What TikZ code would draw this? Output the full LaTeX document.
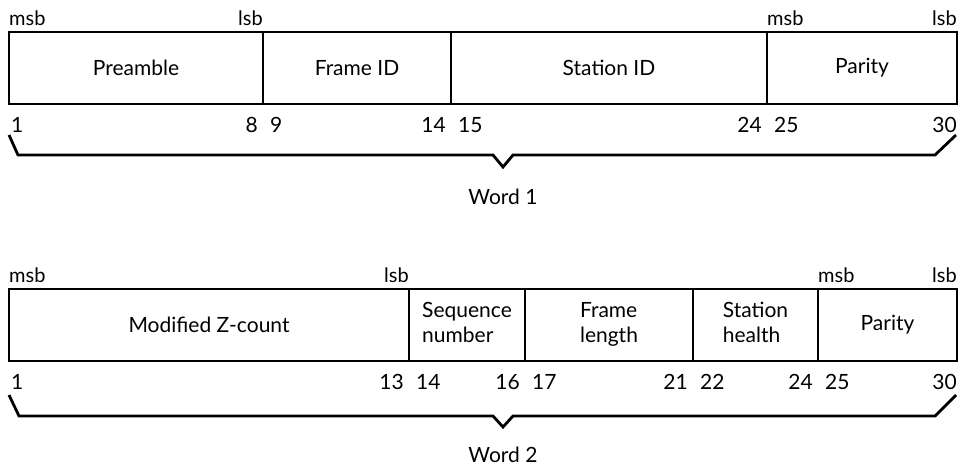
\documentclass[tikz,border=0pt]{standalone}
\usepackage{fontspec}
\setmainfont{Lato}
\usetikzlibrary{positioning}

\begin{document}
\begin{tikzpicture}[
        x=1pt, y=1pt,
        font=\fontsize{21}{25}\selectfont,
        field/.style={draw, line width=2.8pt, minimum height=72pt, inner sep=0pt, outer sep=0pt, align=left},
        twoline/.style={field, execute at begin node=\rule{0pt}{20pt}, execute at end node=\rule[-5pt]{0pt}{5pt}},
        tag/.style={inner sep=0pt, font=\fontsize{20}{22}\selectfont},
        num/.style={inner sep=0pt},
        brace/.style={line width=2.8pt, line join=miter}
    ]
        \useasboundingbox (0,0) rectangle (963,-469);
        % word 1
        \node[field, minimum width=254pt, anchor=north west] (pre) at (9,-32) {Preamble};
        \node[field, minimum width=188pt, right=0pt of pre] (fid) {Frame ID};
        \node[field, minimum width=316pt, right=0pt of fid] (sid) {Station ID};
        \node[field, minimum width=190pt, right=0pt of sid] (par1) {Parity};
        \node[tag, anchor=base west] at ([yshift=7pt]pre.north west) {msb};
        \node[tag, anchor=base east] at ([yshift=7pt]pre.north east) {lsb};
        \node[tag, anchor=base west] at ([yshift=7pt]par1.north west) {msb};
        \node[tag, anchor=base east] at ([yshift=7pt]par1.north east) {lsb};
        \node[num, anchor=base west] at ([shift={(2,-28)}]pre.south west) {1};
        \node[num, anchor=base east] at ([shift={(-5,-28)}]pre.south east) {8};
        \node[num, anchor=base west] at ([shift={(7,-28)}]fid.south west) {9};
        \node[num, anchor=base east] at ([shift={(-5,-28)}]fid.south east) {14};
        \node[num, anchor=base west] at ([shift={(7,-28)}]sid.south west) {15};
        \node[num, anchor=base east] at ([shift={(-5,-28)}]sid.south east) {24};
        \node[num, anchor=base west] at ([shift={(7,-28)}]par1.south west) {25};
        \node[num, anchor=base east] at ([shift={(0,-28)}]par1.south east) {30};
        \draw[brace] (9,-135) -- (18,-155) -- (493,-155) -- (503,-167) -- (513,-155) -- (935,-155) -- (956,-135);
        \node (w1) at (503,-197) {Word 1};
        % word 2
        \node[field, minimum width=400pt, anchor=north west] (zc) at (9,-289) {Modified Z-count};
        \node[twoline, minimum width=116pt, right=0pt of zc] (seq) {Sequence\\number};
        \node[twoline, minimum width=168pt, right=0pt of seq] (flen) {Frame\\length};
        \node[twoline, minimum width=125pt, right=0pt of flen] (sh) {Station\\health};
        \node[field, minimum width=139pt, right=0pt of sh] (par2) {Parity};
        \node[tag, anchor=base west] at ([yshift=7pt]zc.north west) {msb};
        \node[tag, anchor=base east] at ([yshift=7pt]zc.north east) {lsb};
        \node[tag, anchor=base west] at ([yshift=7pt]par2.north west) {msb};
        \node[tag, anchor=base east] at ([yshift=7pt]par2.north east) {lsb};
        \node[num, anchor=base west] at ([shift={(2,-28)}]zc.south west) {1};
        \node[num, anchor=base east] at ([shift={(-5,-28)}]zc.south east) {13};
        \node[num, anchor=base west] at ([shift={(7,-28)}]seq.south west) {14};
        \node[num, anchor=base east] at ([shift={(-5,-28)}]seq.south east) {16};
        \node[num, anchor=base west] at ([shift={(7,-28)}]flen.south west) {17};
        \node[num, anchor=base east] at ([shift={(-5,-28)}]flen.south east) {21};
        \node[num, anchor=base west] at ([shift={(7,-28)}]sh.south west) {22};
        \node[num, anchor=base east] at ([shift={(-5,-28)}]sh.south east) {24};
        \node[num, anchor=base west] at ([shift={(7,-28)}]par2.south west) {25};
        \node[num, anchor=base east] at ([shift={(0,-28)}]par2.south east) {30};
        \draw[brace] (9,-395) -- (19,-416) -- (493,-416) -- (503,-427) -- (513,-416) -- (935,-416) -- (956,-395);
        \node (w2) at (503,-455) {Word 2};
    \end{tikzpicture}
\end{document}
